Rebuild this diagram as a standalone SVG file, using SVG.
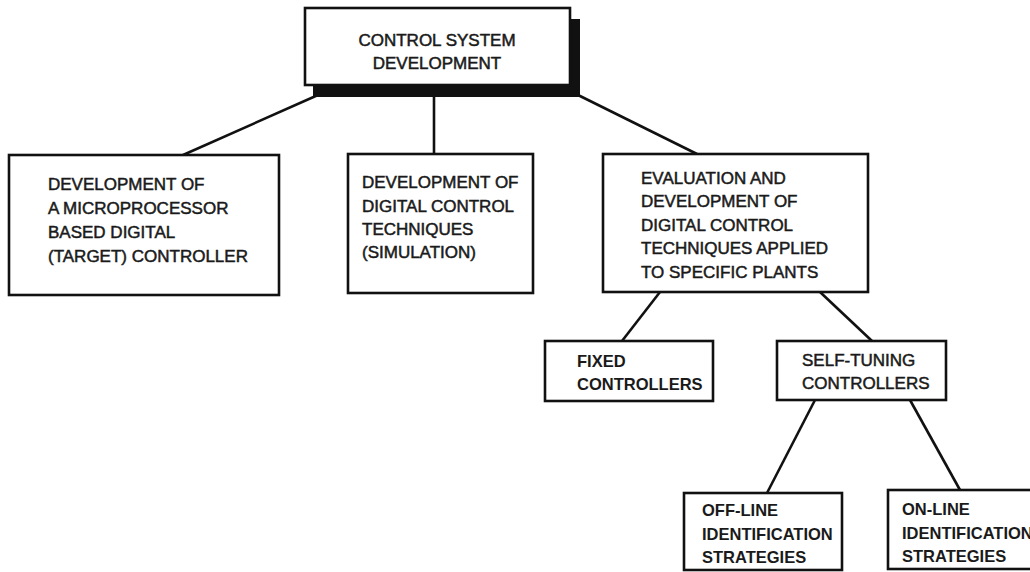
<svg xmlns="http://www.w3.org/2000/svg" width="1030" height="572" viewBox="0 0 1030 572">
<style>
.box{fill:#fff;stroke:#111;stroke-width:2.6}
.t{font-family:"Liberation Sans",Arial,sans-serif;font-size:17px;fill:#1a1a1a;stroke:#1a1a1a;stroke-width:0.5}
.tb{font-family:"Liberation Sans",Arial,sans-serif;font-size:16.5px;font-weight:bold;fill:#1a1a1a}
.c{fill:none;stroke:#111;stroke-width:2.6}
</style>
<rect width="1030" height="572" fill="#fff"/>
<g id="connectors">
<line class="c" x1="318" y1="95" x2="183" y2="155"/>
<line class="c" x1="434" y1="95" x2="434" y2="154"/>
<line class="c" x1="578" y1="95" x2="697" y2="154"/>
<line class="c" x1="660" y1="292" x2="622" y2="341"/>
<line class="c" x1="820" y1="292" x2="872" y2="341"/>
<line class="c" x1="815" y1="400" x2="767" y2="493"/>
<line class="c" x1="910" y1="400" x2="960" y2="490"/>
</g>
<g id="n-root">
<rect x="313" y="19" width="267" height="78" fill="#111"/>
<rect class="box" x="305" y="8" width="265" height="77"/>
<text class="t" x="437" y="46" text-anchor="middle">CONTROL SYSTEM</text>
<text class="t" x="437" y="69" text-anchor="middle">DEVELOPMENT</text>
</g>
<g id="n-micro">
<rect class="box" x="9" y="155" width="270" height="140"/>
<text class="t" x="48" y="190">DEVELOPMENT OF</text>
<text class="t" x="48" y="214">A MICROPROCESSOR</text>
<text class="t" x="48" y="238">BASED DIGITAL</text>
<text class="t" x="48" y="262">(TARGET) CONTROLLER</text>
</g>
<g id="n-sim">
<rect class="box" x="348" y="154" width="185" height="139"/>
<text class="t" x="362" y="188">DEVELOPMENT OF</text>
<text class="t" x="362" y="212">DIGITAL CONTROL</text>
<text class="t" x="362" y="235">TECHNIQUES</text>
<text class="t" x="362" y="258">(SIMULATION)</text>
</g>
<g id="n-eval">
<rect class="box" x="603" y="154" width="265" height="138"/>
<text class="t" x="641" y="184">EVALUATION AND</text>
<text class="t" x="641" y="207">DEVELOPMENT OF</text>
<text class="t" x="641" y="231">DIGITAL CONTROL</text>
<text class="t" x="641" y="254">TECHNIQUES APPLIED</text>
<text class="t" x="641" y="278">TO SPECIFIC PLANTS</text>
</g>
<g id="n-fixed">
<rect class="box" x="545" y="341" width="168" height="60"/>
<text class="tb" x="577" y="367">FIXED</text>
<text class="tb" x="577" y="390">CONTROLLERS</text>
</g>
<g id="n-self">
<rect class="box" x="777" y="341" width="169" height="59"/>
<text class="t" x="802" y="366">SELF-TUNING</text>
<text class="t" x="802" y="389">CONTROLLERS</text>
</g>
<g id="n-offline">
<rect class="box" x="684" y="493" width="158" height="77"/>
<text class="tb" x="702" y="516">OFF-LINE</text>
<text class="tb" x="702" y="540">IDENTIFICATION</text>
<text class="tb" x="702" y="563">STRATEGIES</text>
</g>
<g id="n-online">
<rect class="box" x="888" y="490" width="160" height="79"/>
<text class="tb" x="902" y="515">ON-LINE</text>
<text class="tb" x="902" y="539">IDENTIFICATION</text>
<text class="tb" x="902" y="562">STRATEGIES</text>
</g>
</svg>
